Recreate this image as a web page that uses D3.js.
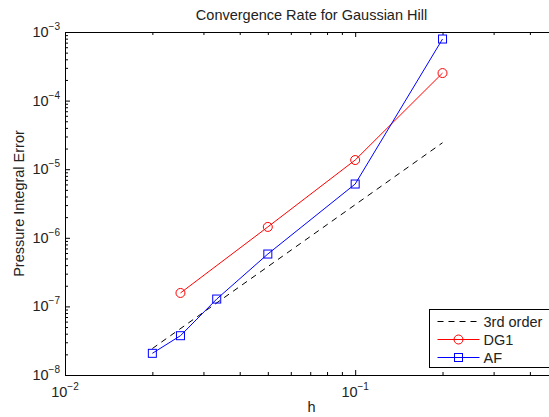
<!DOCTYPE html>
<html>
<head>
<meta charset="UTF-8">
<script src="https://d3js.org/d3.v7.min.js"></script>
<style>
  body { margin: 0; padding: 0; background: #fff; overflow: hidden; }
  svg text { font-family: 'Liberation Sans', Arial, sans-serif; fill: #222; }
</style>
</head>
<body>
<div id="chart"></div>
<script>
  // values
  const hRef = [0.02, 0.2];
  const errRef = [2.43e-8, 2.43e-5];
  const hDG1 = [0.025, 0.05, 0.1, 0.2];
  const errDG1 = [1.57e-7, 1.44e-6, 1.36e-5, 2.52e-4];
  const hAF = [0.02, 0.025, 1 / 30, 0.05, 0.1, 0.2];
  const errAF = [2.07e-8, 3.74e-8, 1.28e-7, 5.8e-7, 6.08e-6, 7.9e-4];
  const xDecades = [-2, -1];
  const yDecades = [-8, -7, -6, -5, -4, -3];
  const legendNames = ["3rd order", "DG1", "AF"];

  const width = 549, height = 417;
  const mLeft = 65, mTop = 32, mBottom = 375, mRight = 558;
  const fs = 14.5;

  const svg = d3.select("#chart").append("svg")
    .attr("width", width).attr("height", height);

  const x = d3.scaleLog().domain([0.01, 0.5]).range([mLeft, mRight]);
  const y = d3.scaleLog().domain([1e-8, 1e-3]).range([mBottom, mTop]);

  const isMajor = v => Math.abs(Math.log10(v) - Math.round(Math.log10(v))) < 1e-9;
  const xTicks = x.ticks();
  const yTicks = y.ticks();

  // axes with inward ticks (major and minor drawn separately)
  function drawAxis(axis, ticks, transform) {
    [[ticks.filter(isMajor), -5], [ticks.filter(v => !isMajor(v)), -3]].forEach(([vals, size]) => {
      const g = svg.append("g").attr("transform", transform)
        .call(axis.tickValues(vals).tickSize(size).tickFormat(""));
      g.select(".domain").remove();
      g.selectAll("line").attr("stroke", "#000");
    });
  }
  drawAxis(d3.axisBottom(x), xTicks, `translate(0,${mBottom})`);
  drawAxis(d3.axisTop(x), xTicks, `translate(0,${mTop})`);
  drawAxis(d3.axisLeft(y), yTicks, `translate(${mLeft},0)`);

  svg.append("path")
    .attr("d", `M${mRight},${mTop + 0.5}H${mLeft + 0.5}V${mBottom + 0.5}H${mRight}`)
    .attr("fill", "none").attr("stroke", "#000");

  // tick labels
  xDecades.forEach(d => {
    const t = svg.append("text").attr("x", x(Math.pow(10, d))).attr("y", 397)
      .attr("text-anchor", "middle").style("font-size", fs + "px");
    t.append("tspan").text("10");
    t.append("tspan").attr("dy", -7).style("font-size", "10px").text("\u2212" + Math.abs(d));
  });
  yDecades.forEach(d => {
    const t = svg.append("text").attr("x", mLeft - 5).attr("y", y(Math.pow(10, d)) + 5)
      .attr("text-anchor", "end").style("font-size", fs + "px");
    t.append("tspan").text("10");
    t.append("tspan").attr("dy", -7).style("font-size", "10px").text("\u2212" + Math.abs(d));
  });

  // titles
  svg.append("text").attr("x", (mLeft + mRight) / 2).attr("y", 20)
    .attr("text-anchor", "middle").style("font-size", fs + "px")
    .text("Convergence Rate for Gaussian Hill");
  svg.append("text").attr("x", (mLeft + mRight) / 2).attr("y", 412)
    .attr("text-anchor", "middle").style("font-size", fs + "px").text("h");
  svg.append("text").attr("transform", `translate(24,${(mTop + mBottom) / 2}) rotate(-90)`)
    .attr("text-anchor", "middle").style("font-size", fs + "px")
    .text("Pressure Integral Error");

  const line = d3.line().x(d => x(d[0])).y(d => y(d[1]));

  svg.append("path").datum(d3.zip(hRef, errRef)).attr("d", line)
    .attr("fill", "none").attr("stroke", "#000").attr("stroke-dasharray", "6,5");

  svg.append("path").datum(d3.zip(hDG1, errDG1)).attr("d", line)
    .attr("fill", "none").attr("stroke", "#f00");
  svg.selectAll(".dg1").data(d3.zip(hDG1, errDG1)).enter().append("circle")
    .attr("cx", d => x(d[0])).attr("cy", d => y(d[1])).attr("r", 4.5)
    .attr("fill", "none").attr("stroke", "#f00");

  svg.append("path").datum(d3.zip(hAF, errAF)).attr("d", line)
    .attr("fill", "none").attr("stroke", "#00f");
  svg.selectAll(".af").data(d3.zip(hAF, errAF)).enter().append("rect")
    .attr("x", d => x(d[0]) - 4).attr("y", d => y(d[1]) - 4)
    .attr("width", 8).attr("height", 8)
    .attr("fill", "none").attr("stroke", "#00f");

  // legend
  const lg = svg.append("g").attr("transform", "translate(429.5,309.5)");
  lg.append("rect").attr("x", 0).attr("y", 0).attr("width", 124).attr("height", 58)
    .attr("fill", "#fff").attr("stroke", "#000");
  const colors = ["#000", "#f00", "#00f"];
  legendNames.forEach((name, i) => {
    const yy = 12 + i * 18;
    lg.append("line").attr("x1", 8).attr("x2", 50).attr("y1", yy).attr("y2", yy)
      .attr("stroke", colors[i]).attr("stroke-dasharray", i === 0 ? "6,5" : null);
    if (i === 1) lg.append("circle").attr("cx", 29).attr("cy", yy).attr("r", 4.5)
      .attr("fill", "none").attr("stroke", colors[i]);
    if (i === 2) lg.append("rect").attr("x", 25).attr("y", yy - 4).attr("width", 8).attr("height", 8)
      .attr("fill", "none").attr("stroke", colors[i]);
    lg.append("text").attr("x", 54).attr("y", yy + 5).style("font-size", fs + "px").text(name);
  });
</script>
</body>
</html>
